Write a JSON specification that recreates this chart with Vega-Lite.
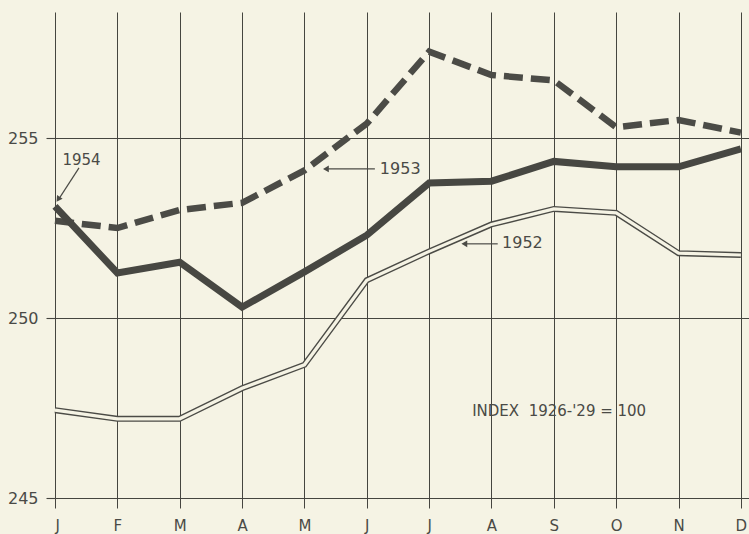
{
  "$schema": "https://vega.github.io/schema/vega-lite/v6.json",
  "width": 694,
  "height": 486,
  "autosize": {"type": "none"},
  "padding": {"left": 55, "top": 12, "right": 0, "bottom": 36},
  "background": "#f5f3e4",
  "config": {
    "view": {"stroke": null},
    "font": "DejaVu Sans"
  },
  "datasets": {
    "series": [
      {"m": 0, "v": 252.7, "s": "1953"}, {"m": 1, "v": 252.5, "s": "1953"}, {"m": 2, "v": 253.0, "s": "1953"}, {"m": 3, "v": 253.2, "s": "1953"}, {"m": 4, "v": 254.1, "s": "1953"}, {"m": 5, "v": 255.4, "s": "1953"}, {"m": 6, "v": 257.4, "s": "1953"}, {"m": 7, "v": 256.75, "s": "1953"}, {"m": 8, "v": 256.6, "s": "1953"}, {"m": 9, "v": 255.3, "s": "1953"}, {"m": 10, "v": 255.5, "s": "1953"}, {"m": 11, "v": 255.15, "s": "1953"},
      {"m": 0, "v": 253.1, "s": "1954"}, {"m": 1, "v": 251.25, "s": "1954"}, {"m": 2, "v": 251.55, "s": "1954"}, {"m": 3, "v": 250.3, "s": "1954"}, {"m": 4, "v": 251.28, "s": "1954"}, {"m": 5, "v": 252.3, "s": "1954"}, {"m": 6, "v": 253.75, "s": "1954"}, {"m": 7, "v": 253.8, "s": "1954"}, {"m": 8, "v": 254.35, "s": "1954"}, {"m": 9, "v": 254.2, "s": "1954"}, {"m": 10, "v": 254.2, "s": "1954"}, {"m": 11, "v": 254.7, "s": "1954"},
      {"m": 0, "v": 247.44, "s": "1952"}, {"m": 1, "v": 247.2, "s": "1952"}, {"m": 2, "v": 247.2, "s": "1952"}, {"m": 3, "v": 248.05, "s": "1952"}, {"m": 4, "v": 248.7, "s": "1952"}, {"m": 5, "v": 251.05, "s": "1952"}, {"m": 6, "v": 251.85, "s": "1952"}, {"m": 7, "v": 252.6, "s": "1952"}, {"m": 8, "v": 253.03, "s": "1952"}, {"m": 9, "v": 252.92, "s": "1952"}, {"m": 10, "v": 251.8, "s": "1952"}, {"m": 11, "v": 251.75, "s": "1952"}
    ],
    "labels": [
      {"x": 0.12, "y": 254.39, "t": "1954", "size": 15},
      {"x": 5.21, "y": 254.15, "t": "1953", "size": 16},
      {"x": 7.17, "y": 252.08, "t": "1952", "size": 16},
      {"x": 6.69, "y": 247.42, "t": "INDEX\u00a0\u00a01926-'29 = 100", "size": 15}
    ],
    "arrows": [
      {"x": 0.385, "y": 254.17, "x2": 0.06, "y2": 253.3},
      {"x": 4.38, "y": 254.14, "x2": 5.13, "y2": 254.14},
      {"x": 6.6, "y": 252.06, "x2": 7.1, "y2": 252.06}
    ],
    "heads": [
      {"x": 0.06, "y": 253.32, "a": 214},
      {"x": 4.36, "y": 254.14, "a": 270},
      {"x": 6.58, "y": 252.06, "a": 270}
    ]
  },
  "layer": [
    {
      "data": {"name": "series"},
      "transform": [{"filter": "datum.s === '1953'"}],
      "mark": {"type": "line", "color": "#4b4b46", "strokeWidth": 6.5, "strokeDash": [19, 8]},
      "encoding": {
        "x": {
          "field": "m", "type": "quantitative",
          "scale": {"domain": [0, 11.13], "nice": false, "zero": false},
          "axis": {
            "values": [0, 1, 2, 3, 4, 5, 6, 7, 8, 9, 10, 11],
            "labelExpr": "['J','F','M','A','M','J','J','A','S','O','N','D'][datum.value]",
            "title": null, "domain": false,
            "grid": true, "gridColor": "#45453f", "gridOpacity": 1, "gridWidth": 1,
            "tickColor": "#45453f", "tickSize": 10, "tickWidth": 1,
            "labelFontSize": 15, "labelColor": "#4a4a46", "labelPadding": 10,
            "labelFont": "DejaVu Sans"
          }
        },
        "y": {
          "field": "v", "type": "quantitative",
          "scale": {"domain": [245, 258.5], "nice": false, "zero": false},
          "axis": {
            "values": [245, 250, 255],
            "title": null, "domain": false,
            "grid": true, "gridColor": "#45453f", "gridOpacity": 1, "gridWidth": 1.1,
            "tickColor": "#45453f", "tickSize": 9, "tickWidth": 1.1,
            "labelFontSize": 16, "labelColor": "#4a4a46", "labelPadding": 8,
            "labelFont": "DejaVu Sans"
          }
        }
      }
    },
    {
      "data": {"name": "series"},
      "transform": [{"filter": "datum.s === '1954'"}],
      "mark": {"type": "line", "color": "#474742", "strokeWidth": 7},
      "encoding": {
        "x": {"field": "m", "type": "quantitative"},
        "y": {"field": "v", "type": "quantitative"}
      }
    },
    {
      "data": {"name": "series"},
      "transform": [{"filter": "datum.s === '1952'"}],
      "mark": {"type": "line", "color": "#4b4b46", "strokeWidth": 6},
      "encoding": {
        "x": {"field": "m", "type": "quantitative"},
        "y": {"field": "v", "type": "quantitative"}
      }
    },
    {
      "data": {"name": "series"},
      "transform": [{"filter": "datum.s === '1952'"}],
      "mark": {"type": "line", "color": "#f5f3e4", "strokeWidth": 3.2},
      "encoding": {
        "x": {"field": "m", "type": "quantitative"},
        "y": {"field": "v", "type": "quantitative"}
      }
    },
    {
      "data": {"name": "arrows"},
      "mark": {"type": "rule", "color": "#4b4b46", "strokeWidth": 1.2},
      "encoding": {
        "x": {"field": "x", "type": "quantitative"},
        "y": {"field": "y", "type": "quantitative"},
        "x2": {"field": "x2"},
        "y2": {"field": "y2"}
      }
    },
    {
      "data": {"name": "heads"},
      "mark": {"type": "point", "shape": "triangle", "filled": true, "color": "#4b4b46", "size": 45, "opacity": 1},
      "encoding": {
        "x": {"field": "x", "type": "quantitative"},
        "y": {"field": "y", "type": "quantitative"},
        "angle": {"field": "a", "type": "quantitative", "scale": null}
      }
    },
    {
      "data": {"name": "labels"},
      "mark": {"type": "text", "align": "left", "baseline": "middle", "color": "#4a4a46", "font": "DejaVu Sans"},
      "encoding": {
        "x": {"field": "x", "type": "quantitative"},
        "y": {"field": "y", "type": "quantitative"},
        "text": {"field": "t"},
        "size": {"field": "size", "type": "quantitative", "scale": null}
      }
    }
  ]
}
